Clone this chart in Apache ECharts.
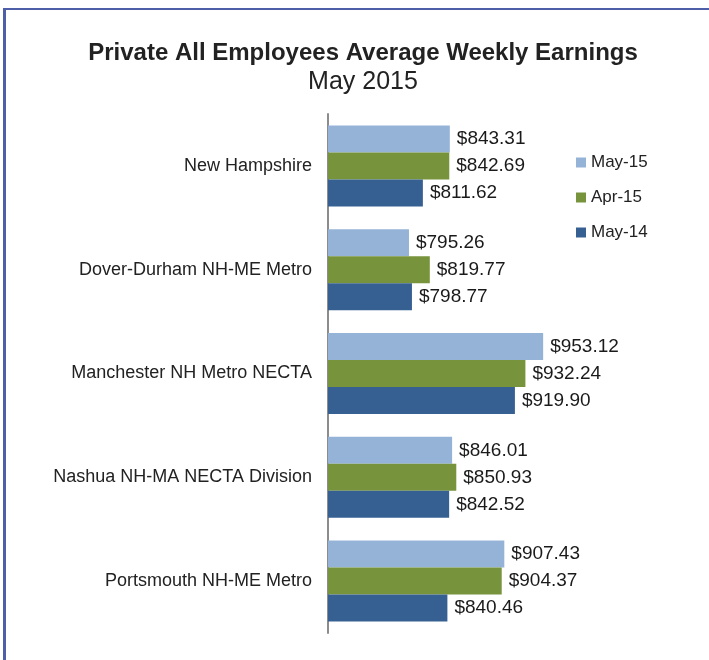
<!DOCTYPE html>
<html>
<head>
<meta charset="utf-8">
<script src="https://cdn.jsdelivr.net/npm/echarts@6/dist/echarts.min.js"></script>
<style>
  html, body { margin: 0; padding: 0; background: #fff; }
  #frame { position: absolute; left: 3px; top: 8px; width: 706px; height: 652px;
           border-top: 2px solid #4f5ea8; border-left: 3px solid #4f5ea8; }
  #chart { position: absolute; left: 0; top: 0; width: 709px; height: 660px; }
</style>
</head>
<body>
<div id="frame"></div>
<div id="chart"></div>
<script>
const areas = ['New Hampshire', 'Dover-Durham NH-ME Metro', 'Manchester NH Metro NECTA',
  'Nashua NH-MA NECTA Division', 'Portsmouth NH-ME Metro'];
const may15 = [843.31, 795.26, 953.12, 846.01, 907.43];
const apr15 = [842.69, 819.77, 932.24, 850.93, 904.37];
const may14 = [811.62, 798.77, 919.90, 842.52, 840.46];

const font = 'Liberation Sans, Arial, sans-serif';

function barSeries(name, data, color) {
  return {
    name: name,
    type: 'bar',
    data: data,
    barGap: 0,
    barCategoryGap: '22%',
    itemStyle: { color: color },
    label: {
      show: true,
      position: 'right',
      distance: 7,
      color: '#1a1a1a',
      fontFamily: font,
      fontSize: 19,
      formatter: function (p) { return '$' + p.value.toFixed(2); }
    }
  };
}

let chart = echarts.init(document.getElementById('chart'));
chart.setOption({
  animation: false,
  title: {
    text: 'Private All Employees Average Weekly Earnings',
    subtext: 'May 2015',
    left: 358,
    textAlign: 'center',
    top: 36,
    itemGap: 5,
    textStyle: { fontFamily: font, fontWeight: 'bold', fontSize: 24, color: '#222' },
    subtextStyle: { fontFamily: font, fontSize: 25, color: '#222' }
  },
  legend: {
    orient: 'vertical',
    left: 571,
    top: 149,
    itemWidth: 10,
    itemHeight: 10,
    itemGap: 18,
    icon: 'rect',
    textStyle: { fontFamily: font, fontSize: 17, color: '#222' },
    data: ['May-15', 'Apr-15', 'May-14']
  },
  grid: { left: 328, right: 126, top: 114, bottom: 27 },
  xAxis: {
    type: 'value',
    min: 700,
    max: 1000,
    show: false
  },
  yAxis: {
    type: 'category',
    data: areas,
    inverse: true,
    axisLine: { show: true, lineStyle: { color: '#8c8c8c', width: 2 } },
    axisTick: { show: false },
    axisLabel: { fontFamily: font, fontSize: 18, color: '#222', margin: 16 }
  },
  series: [
    barSeries('May-15', may15, '#95b3d7'),
    barSeries('Apr-15', apr15, '#77933c'),
    barSeries('May-14', may14, '#376092')
  ]
});
</script>
</body>
</html>
